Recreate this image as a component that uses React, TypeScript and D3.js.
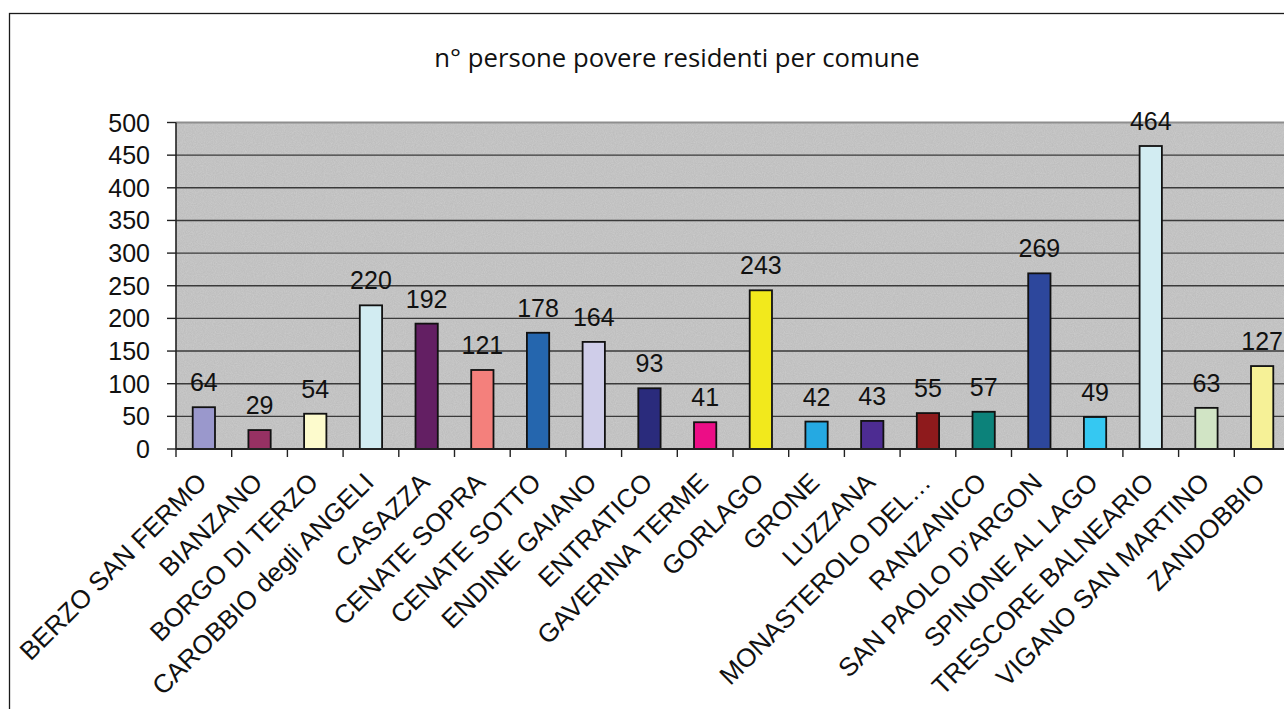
import React from "react";
import * as d3 from "d3";

// Municipalities and number of poor residents
const comuni: string[] = [
  "BERZO SAN FERMO",
  "BIANZANO",
  "BORGO DI TERZO",
  "CAROBBIO degli ANGELI",
  "CASAZZA",
  "CENATE SOPRA",
  "CENATE SOTTO",
  "ENDINE GAIANO",
  "ENTRATICO",
  "GAVERINA TERME",
  "GORLAGO",
  "GRONE",
  "LUZZANA",
  "MONASTEROLO DEL…",
  "RANZANICO",
  "SAN PAOLO D’ARGON",
  "SPINONE AL LAGO",
  "TRESCORE BALNEARIO",
  "VIGANO SAN MARTINO",
  "ZANDOBBIO",
];

const persone: number[] = [64, 29, 54, 220, 192, 121, 178, 164, 93, 41, 243, 42, 43, 55, 57, 269, 49, 464, 63, 127];

const coloriBarre: string[] = [
  "#9a98cc",
  "#973163",
  "#fdfbcd",
  "#d2ecf2",
  "#631f63",
  "#f4807c",
  "#2566ae",
  "#cfcde9",
  "#2a2b7c",
  "#ec0d86",
  "#f2e91c",
  "#25a9e2",
  "#4d2c92",
  "#8e1a1c",
  "#0c827a",
  "#2d479c",
  "#35c8f2",
  "#d2ecf2",
  "#d1e4c5",
  "#f6f197",
];

const yTicks: number[] = [0, 50, 100, 150, 200, 250, 300, 350, 400, 450, 500];

const titolo = "n° persone povere residenti per comune";

const W = 1284;
const H = 709;
const plot = { left: 176, top: 122.5, bottom: 449, right: 176 + 55.7 * 20 };

export default function App() {
  const x = d3
    .scaleBand<string>()
    .domain(comuni)
    .range([plot.left, plot.right])
    .paddingInner(0)
    .paddingOuter(0);
  const y = d3.scaleLinear().domain([0, 500]).range([plot.bottom, plot.top]);
  const band = x.bandwidth();
  const barW = band * 0.4;
  const font = "'Liberation Sans', Arial, sans-serif";

  return (
    <svg
      width={W}
      height={H}
      style={{ position: "absolute", left: 0, top: 0, display: "block" }}
      xmlns="http://www.w3.org/2000/svg"
    >
      <defs>
        <filter id="grana" x="0" y="0" width="100%" height="100%">
          <feTurbulence type="fractalNoise" baseFrequency="0.9" numOctaves="2" seed="3" result="n" />
          <feColorMatrix
            in="n"
            type="matrix"
            values="0 0 0 0 0.74  0 0 0 0 0.74  0 0 0 0 0.74  0.9 0 0 0 -0.2"
            result="g"
          />
          <feComposite in="g" in2="SourceGraphic" operator="in" />
        </filter>
      </defs>
      <rect x={0} y={0} width={W} height={H} fill="#ffffff" />
      {/* chart frame */}
      <rect x={9.5} y={13.5} width={W + 20} height={H + 20} fill="none" stroke="#1a1a1a" strokeWidth={1.3} />

      <text
        x={677}
        y={67}
        textAnchor="middle"
        fontFamily="'Open Sans', 'Noto Sans', sans-serif"
        fontSize={25.7}
        fill="#111"
      >
        {titolo}
      </text>

      {/* plot area */}
      <rect x={plot.left} y={plot.top} width={plot.right - plot.left} height={plot.bottom - plot.top} fill="#bebebe" />
      <rect
        x={plot.left}
        y={plot.top}
        width={plot.right - plot.left}
        height={plot.bottom - plot.top}
        fill="#bebebe"
        filter="url(#grana)"
        opacity={0.6}
      />

      {/* gridlines */}
      {yTicks
        .filter((t) => t > 0 && t < 500)
        .map((t) => (
          <line key={t} x1={plot.left} x2={plot.right} y1={y(t)} y2={y(t)} stroke="#3a3a3a" strokeWidth={1.4} />
        ))}
      <line x1={plot.left} x2={plot.right} y1={y(500)} y2={y(500)} stroke="#8e8e8e" strokeWidth={2} />

      {/* bars */}
      {comuni.map((c, i) => {
        const cx = (x(c) as number) + band / 2;
        return (
          <rect
            key={c}
            x={cx - barW / 2}
            y={y(persone[i])}
            width={barW}
            height={y(0) - y(persone[i])}
            fill={coloriBarre[i]}
            stroke="#111"
            strokeWidth={1.8}
          />
        );
      })}

      {/* value labels */}
      {comuni.map((c, i) => {
        const cx = (x(c) as number) + band / 2;
        return (
          <text
            key={c}
            x={cx}
            y={y(persone[i]) - 16}
            textAnchor="middle"
            fontFamily={font}
            fontSize={25}
            fill="#111"
          >
            {persone[i]}
          </text>
        );
      })}

      {/* y axis */}
      <line x1={plot.left} x2={plot.left} y1={plot.top} y2={plot.bottom} stroke="#222" strokeWidth={1.6} />
      {yTicks.map((t) => (
        <g key={t}>
          <line x1={plot.left - 9} x2={plot.left} y1={y(t)} y2={y(t)} stroke="#222" strokeWidth={1.4} />
          <text
            x={150}
            y={y(t)}
            dy="0.36em"
            textAnchor="end"
            fontFamily={font}
            fontSize={25}
            fill="#111"
          >
            {t}
          </text>
        </g>
      ))}

      {/* x axis */}
      <line x1={plot.left} x2={plot.right} y1={plot.bottom} y2={plot.bottom} stroke="#222" strokeWidth={2} />
      {comuni.map((c) => (
        <line
          key={c}
          x1={x(c) as number}
          x2={x(c) as number}
          y1={plot.bottom}
          y2={plot.bottom + 8}
          stroke="#222"
          strokeWidth={1.4}
        />
      ))}
      {comuni.map((c) => {
        const cx = (x(c) as number) + band / 2;
        return (
          <text
            key={c}
            transform={`translate(${cx + 4.5},${484}) rotate(-45)`}
            textAnchor="end"
            fontFamily={font}
            fontSize={26}
            fill="#111"
          >
            {c}
          </text>
        );
      })}
    </svg>
  );
}
